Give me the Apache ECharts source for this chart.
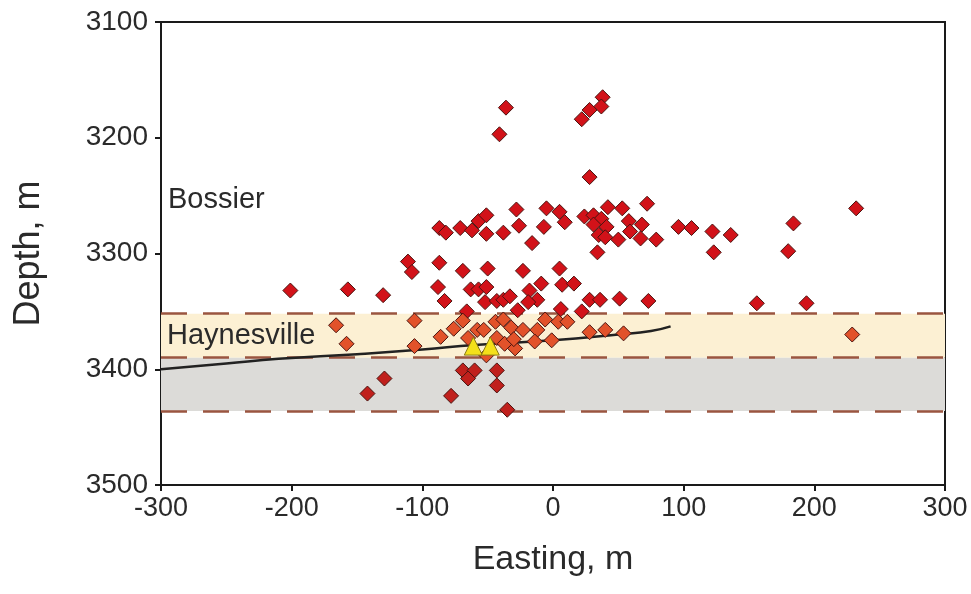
<!DOCTYPE html>
<html>
<head>
<meta charset="utf-8">
<script src="https://cdn.jsdelivr.net/npm/echarts@6/dist/echarts.min.js"></script>
<style>
  html, body { margin: 0; padding: 0; background: #fff; }
  #main { width: 971px; height: 594px; }
</style>
</head>
<body>
<div id="main"></div>
<script>
// microseismic events [easting, depth]
var events = [
  [-36, 3174], [-41, 3197], [22, 3184], [28, 3176], [38, 3165], [37, 3173], [28, 3234],
  [72, 3257], [42, 3260], [53, 3261], [24, 3268], [31, 3267], [37, 3270], [31, 3275], [41, 3277],
  [58, 3272], [68, 3275], [35, 3284], [40, 3286], [50, 3288], [59, 3281], [67, 3287], [79, 3288],
  [34, 3299], [96, 3277], [106, 3278], [122, 3281], [136, 3284], [123, 3299], [184, 3274],
  [180, 3298], [232, 3261],
  [-28, 3262], [-5, 3261], [5, 3264], [9, 3273], [-87, 3278], [-82, 3282], [-71, 3278], [-62, 3280],
  [-57, 3272], [-51, 3267], [-51, 3283], [-38, 3282], [-26, 3276], [-16, 3291], [-7, 3277],
  [-111, 3307], [-108, 3316], [-87, 3308], [-69, 3315], [-50, 3313], [-23, 3315], [5, 3313],
  [-201, 3332], [-157, 3331], [-130, 3336], [-88, 3329], [-83, 3341], [-63, 3331], [-57, 3331],
  [-51, 3329], [-52, 3342], [-43, 3341], [-38, 3340], [-33, 3337], [-27, 3349], [-18, 3332],
  [-12, 3340], [-9, 3326], [-19, 3342], [7, 3327], [16, 3326], [6, 3348], [22, 3350], [28, 3340],
  [36, 3340], [51, 3339], [73, 3341], [156, 3343], [194, 3343], [-66, 3350],
  [-166, 3362], [-158, 3378], [-106, 3358], [-106, 3380], [-86, 3372], [-76, 3365], [-69, 3358],
  [-65, 3373], [-58, 3366], [-53, 3366], [-44, 3359], [-38, 3357], [-32, 3364], [-23, 3366],
  [-12, 3366], [-6, 3357], [4, 3359], [11, 3359], [-43, 3373], [-37, 3378], [-29, 3382],
  [-30, 3374], [-14, 3376], [-1, 3375], [-51, 3388], [28, 3368], [40, 3366], [54, 3369], [229, 3370],
  [-129, 3408], [-142, 3421], [-78, 3423], [-69, 3401], [-60, 3401], [-65, 3408], [-43, 3401],
  [-43, 3414], [-35, 3435]
];

// perforation / observation points
var triangles = [[-61, 3380], [-48, 3380]];

// well trajectory
var wellPath = [
  [-300, 3400], [-250, 3395], [-210, 3391], [-150, 3387], [-100, 3383],
  [-60, 3379], [0, 3375], [50, 3370], [75, 3367], [90, 3363]
];

// formation boundaries: top Haynesville, base Haynesville, base of lower zone
var bandEdges = [3352, 3390, 3436];

var xTicks = [-300, 300];
var yTicks = [3100, 3500];

var chart = echarts.init(document.getElementById('main'));

function pointColor(depth) {
  if (depth >= bandEdges[1]) return '#c0201c';
  if (depth >= bandEdges[0]) return '#e2522a';
  return '#d21219';
}

var fontFam = 'Liberation Sans, Arial, sans-serif';

var option = {
  animation: false,
  grid: {
    left: 161, right: 26, top: 22, bottom: 109,
    show: true,
    borderColor: '#1a1a1a',
    borderWidth: 2,
    backgroundColor: 'transparent'
  },
  xAxis: {
    type: 'value',
    min: xTicks[0], max: xTicks[1], interval: 100,
    name: 'Easting, m',
    nameLocation: 'middle',
    nameGap: 58,
    nameTextStyle: { fontSize: 34, color: '#2a2a2a', fontFamily: fontFam },
    axisLine: { onZero: false, lineStyle: { color: '#1a1a1a', width: 2 } },
    axisTick: { length: 6, lineStyle: { color: '#1a1a1a', width: 2 } },
    axisLabel: { fontSize: 27, color: '#2a2a2a', margin: 10, fontFamily: fontFam },
    splitLine: { show: false }
  },
  yAxis: {
    type: 'value',
    inverse: true,
    min: yTicks[0], max: yTicks[1], interval: 100,
    name: 'Depth, m',
    nameLocation: 'middle',
    nameGap: 114,
    nameTextStyle: { fontSize: 36, color: '#2a2a2a', fontFamily: fontFam },
    axisLine: { onZero: false, lineStyle: { color: '#1a1a1a', width: 2 } },
    axisTick: { length: 6, lineStyle: { color: '#1a1a1a', width: 2 } },
    axisLabel: {
      fontSize: 28, color: '#2a2a2a', margin: 13, fontFamily: fontFam,
      formatter: function (v) { return String(v); }
    },
    splitLine: { show: false }
  },
  graphic: [
    { type: 'text', left: 168, top: 185, z: 10,
      style: { text: 'Bossier', font: '29px ' + fontFam, fill: '#2a2a2a' } },
    { type: 'text', left: 167, top: 321, z: 10,
      style: { text: 'Haynesville', font: '29px ' + fontFam, fill: '#2a2a2a' } }
  ],
  series: [
    {
      name: 'well',
      type: 'line',
      data: wellPath,
      smooth: true,
      showSymbol: false,
      z: 4,
      lineStyle: { color: '#222', width: 2.5 },
      markArea: {
        silent: true,
        z: 1,
        data: [
          [{ yAxis: bandEdges[0], itemStyle: { color: '#fcf0d3' } }, { yAxis: bandEdges[1] }],
          [{ yAxis: bandEdges[1], itemStyle: { color: '#dcdbd8' } }, { yAxis: bandEdges[2] }]
        ]
      },
      markLine: {
        silent: true,
        z: 3,
        symbol: 'none',
        label: { show: false },
        lineStyle: { color: '#9a5540', width: 2.5, type: [26, 16] },
        data: bandEdges.map(function (d) { return { yAxis: d }; })
      }
    },
    {
      name: 'events',
      type: 'scatter',
      data: events,
      symbol: 'diamond',
      symbolSize: 15,
      z: 6,
      itemStyle: {
        opacity: 1,
        color: function (p) { return pointColor(p.value[1]); },
        borderColor: '#4a1410',
        borderWidth: 1
      }
    },
    {
      name: 'perfs',
      type: 'scatter',
      data: triangles,
      symbol: 'triangle',
      symbolSize: 18,
      z: 7,
      itemStyle: { opacity: 1, color: '#f4e01a', borderColor: '#8a7a14', borderWidth: 1 }
    }
  ]
};

chart.setOption(option);
</script>
</body>
</html>
